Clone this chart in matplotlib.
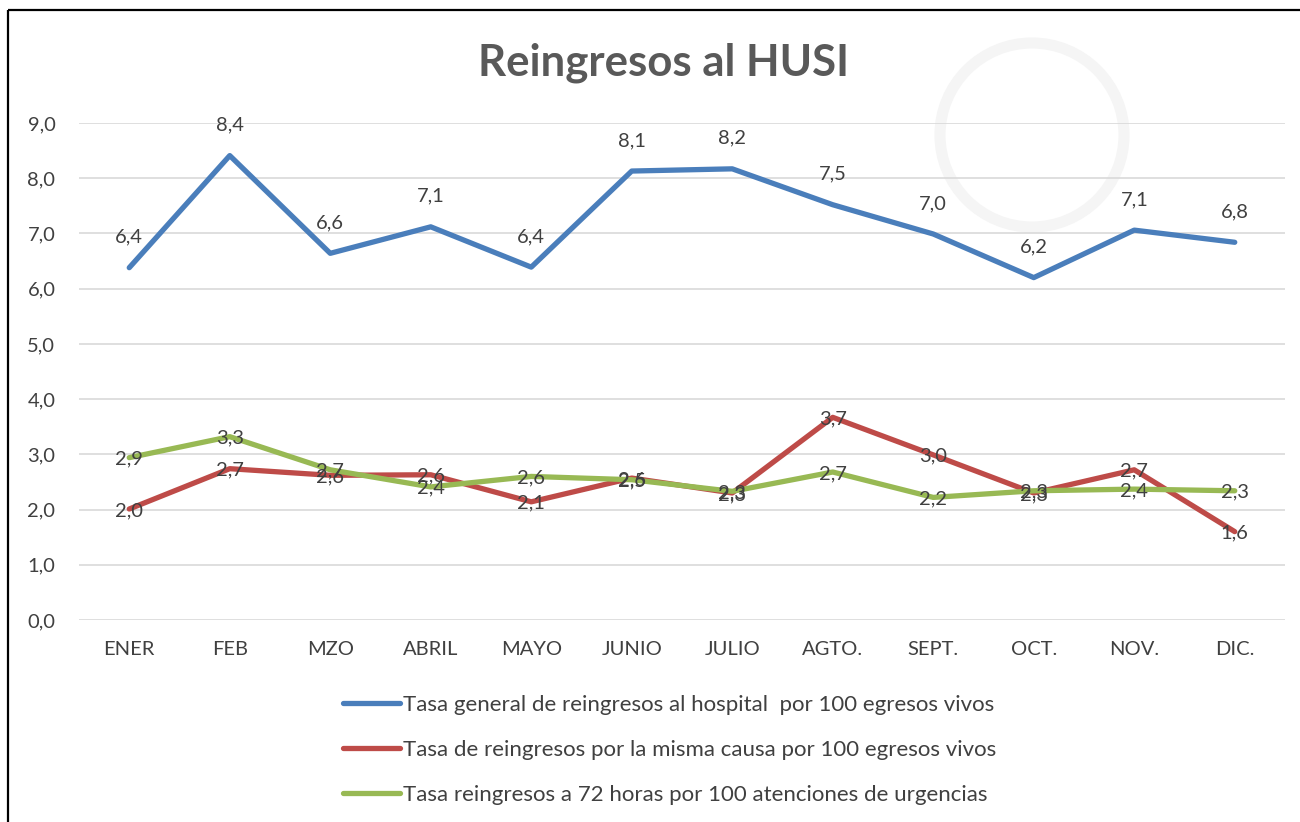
import matplotlib
matplotlib.use('Agg')
import numpy as np
import matplotlib.pyplot as plt
from matplotlib.patches import Circle, Rectangle

# %% data
meses = ['ENER', 'FEB', 'MZO', 'ABRIL', 'MAYO', 'JUNIO', 'JULIO',
         'AGTO.', 'SEPT.', 'OCT.', 'NOV.', 'DIC.']
tasa_general = [6.38, 8.41, 6.64, 7.12, 6.39, 8.13, 8.17, 7.52, 6.99, 6.20, 7.06, 6.84]
tasa_misma = [2.01, 2.74, 2.62, 2.63, 2.14, 2.57, 2.30, 3.67, 2.99, 2.30, 2.72, 1.60]
tasa_72h = [2.94, 3.32, 2.72, 2.41, 2.60, 2.54, 2.33, 2.68, 2.22, 2.34, 2.37, 2.34]

lbl_general = 'Tasa general de reingresos al hospital  por 100 egresos vivos'
lbl_misma = 'Tasa de reingresos por la misma causa por 100 egresos vivos'
lbl_72h = 'Tasa reingresos a 72 horas por 100 atenciones de urgencias'

# %%
plt.rcParams['font.family'] = ['Lato', 'DejaVu Sans']
TXT = '#404040'
W, H = 1300, 822

fig = plt.figure(figsize=(13, 8.22), dpi=100)

# faint watermark + outer frame
bg = fig.add_axes([0, 0, 1, 1], zorder=-5)
bg.set_xlim(0, W); bg.set_ylim(H, 0); bg.axis('off')
bg.add_patch(Circle((1032, 135), 92, fill=False, ec='#f5f5f5', lw=8))
bg.add_patch(Rectangle((8, 10), 1400, 900, fill=False, ec='black', lw=1.6))

ax = fig.add_axes([79 / W, 1 - 620 / H, (1285 - 79) / W, (620 - 123) / H])
ax.patch.set_alpha(0)
x = np.arange(len(meses))

series = [(tasa_general, '#4a7ebb', lbl_general),
          (tasa_misma, '#be4b48', lbl_misma),
          (tasa_72h, '#98b954', lbl_72h)]
for vals, col, lab in series:
    ax.plot(x, vals, color=col, lw=3.8, solid_capstyle='round', label=lab, zorder=3)

for xi, v in zip(x, tasa_general):
    ax.annotate(f'{v:.1f}'.replace('.', ','), (xi, v), xytext=(0, 22),
                textcoords='offset points', ha='center', va='center',
                fontsize=14.5, color=TXT, zorder=4)
for vals in (tasa_misma, tasa_72h):
    for xi, v in zip(x, vals):
        ax.annotate(f'{v:.1f}'.replace('.', ','), (xi, v), xytext=(0, -1),
                    textcoords='offset points', ha='center', va='center',
                    fontsize=14.5, color=TXT, zorder=4)

ax.set_xlim(-0.5, len(meses) - 0.5)
ax.set_ylim(0, 9)
ax.set_yticks(np.arange(0, 10, 1))
ax.set_yticklabels([f'{v:.1f}'.replace('.', ',') for v in np.arange(0, 10, 1)])
ax.set_xticks(x)
ax.set_xticklabels(meses)
ax.tick_params(axis='both', length=0, labelsize=14.5, labelcolor=TXT)
ax.tick_params(axis='y', pad=17)
ax.tick_params(axis='x', pad=15)
ax.grid(axis='y', color='#d9d9d9', lw=1.2)
ax.set_axisbelow(True)
for s in ax.spines.values():
    s.set_visible(False)

fig.text(664 / W, 1 - 63 / H, 'Reingresos al HUSI', ha='center', va='center',
         fontsize=31.5, fontweight='bold', color='#595959')

leg = fig.legend(loc='upper left', bbox_to_anchor=(343 / W, 1 - 695 / H),
                 frameon=False, fontsize=16, handlelength=2.57, handletextpad=0.13,
                 labelspacing=1.13, borderpad=0, borderaxespad=0)
for t in leg.get_texts():
    t.set_color(TXT)

fig.savefig('out.png', dpi=100)
